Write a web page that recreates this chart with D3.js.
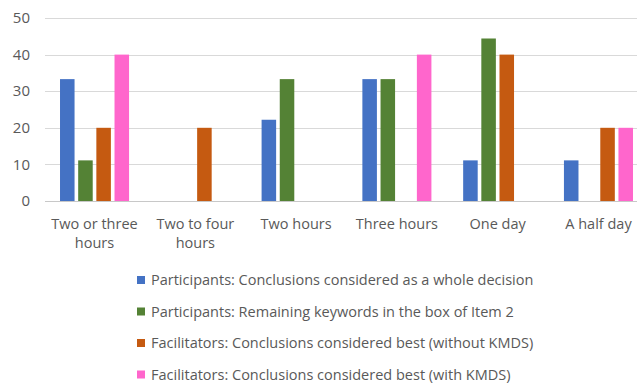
<!DOCTYPE html>
<html>
<head>
<meta charset="utf-8">
<script src="https://cdn.jsdelivr.net/npm/d3@7"></script>
<style>
  html, body { margin: 0; padding: 0; background: #fff; }
  svg { display: block; }
  text { font-family: "Open Sans", "Liberation Sans", sans-serif; fill: #595959; }
</style>
</head>
<body>
<svg id="chart" width="637" height="383"></svg>
<script>
// Session lengths on the category axis
const categories = [
  ["Two or three", "hours"],
  ["Two to four", "hours"],
  ["Two hours"],
  ["Three hours"],
  ["One day"],
  ["A half day"]
];

const seriesNames = [
  "Participants: Conclusions considered as a whole decision",
  "Participants: Remaining keywords in the box of Item 2",
  "Facilitators: Conclusions considered best (without KMDS)",
  "Facilitators: Conclusions considered best (with KMDS)"
];

// Percentages per series, in category order (null = no bar)
const participantsWhole    = [33.3, null, 22.2, 33.3, 11.1, 11.1];
const participantsKeywords = [11.1, null, 33.3, 33.3, 44.4, null];
const facilitatorsWithout  = [20, 20, null, null, 40, 20];
const facilitatorsWith     = [40, null, null, 40, null, 20];

const yTicks = [0, 10, 20, 30, 40, 50];
const colors = ["#4472C4", "#548235", "#C55A11", "#FF66CC"];

const seriesValues = [participantsWhole, participantsKeywords, facilitatorsWithout, facilitatorsWith];

const svg = d3.select("#chart");
const plot = { left: 45, right: 648, top: 18, bottom: 201 };

const x = d3.scaleBand()
  .domain(d3.range(categories.length))
  .range([plot.left, plot.right])
  .paddingInner(0.315)
  .paddingOuter(0.149);

const xs = d3.scaleBand()
  .domain(d3.range(seriesNames.length))
  .range([0, x.bandwidth()])
  .paddingInner(0.2);

const y = d3.scaleLinear().domain([0, 50]).range([plot.bottom, plot.top]);

// Horizontal gridlines
svg.append("g")
  .selectAll("line")
  .data(yTicks)
  .join("line")
  .attr("x1", plot.left)
  .attr("x2", 637)
  .attr("y1", d => Math.round(y(d)) + 0.5)
  .attr("y2", d => Math.round(y(d)) + 0.5)
  .attr("stroke", d => d === 0 ? "#c8c8c8" : "#d9d9d9")
  .attr("stroke-width", 1);

// Y tick labels
svg.append("g")
  .selectAll("text")
  .data(yTicks)
  .join("text")
  .attr("x", 30)
  .attr("y", d => y(d))
  .attr("dy", "0.35em")
  .attr("text-anchor", "end")
  .style("font-size", "15px")
  .text(d => d);

// Bars
const groups = svg.append("g")
  .selectAll("g")
  .data(seriesValues)
  .join("g")
  .attr("fill", (d, i) => colors[i]);

groups.each(function(vals, si) {
  d3.select(this).selectAll("rect")
    .data(vals.map((v, ci) => ({ v, ci })).filter(d => d.v !== null))
    .join("rect")
    .attr("x", d => x(d.ci) + xs(si))
    .attr("width", xs.bandwidth())
    .attr("y", d => y(d.v))
    .attr("height", d => y(0) - y(d.v));
});

// Category labels
const catG = svg.append("g")
  .selectAll("text")
  .data(categories)
  .join("text")
  .attr("x", (d, i) => x(i) + x.bandwidth() / 2)
  .attr("y", 229)
  .attr("text-anchor", "middle")
  .style("font-size", "14.5px");
catG.selectAll("tspan")
  .data(d => d)
  .join("tspan")
  .attr("x", function() { return d3.select(this.parentNode).attr("x"); })
  .attr("dy", (d, i) => i === 0 ? 0 : 19)
  .text(d => d);

// Legend
const legend = svg.append("g")
  .selectAll("g")
  .data(seriesNames)
  .join("g")
  .attr("transform", (d, i) => `translate(137, ${280 + i * 31.5})`);
legend.append("rect")
  .attr("x", 0).attr("y", -4)
  .attr("width", 8).attr("height", 8)
  .attr("fill", (d, i) => colors[i]);
legend.append("text")
  .attr("x", 14)
  .attr("dy", "0.35em")
  .style("font-size", "14.5px")
  .text(d => d);
</script>
</body>
</html>
